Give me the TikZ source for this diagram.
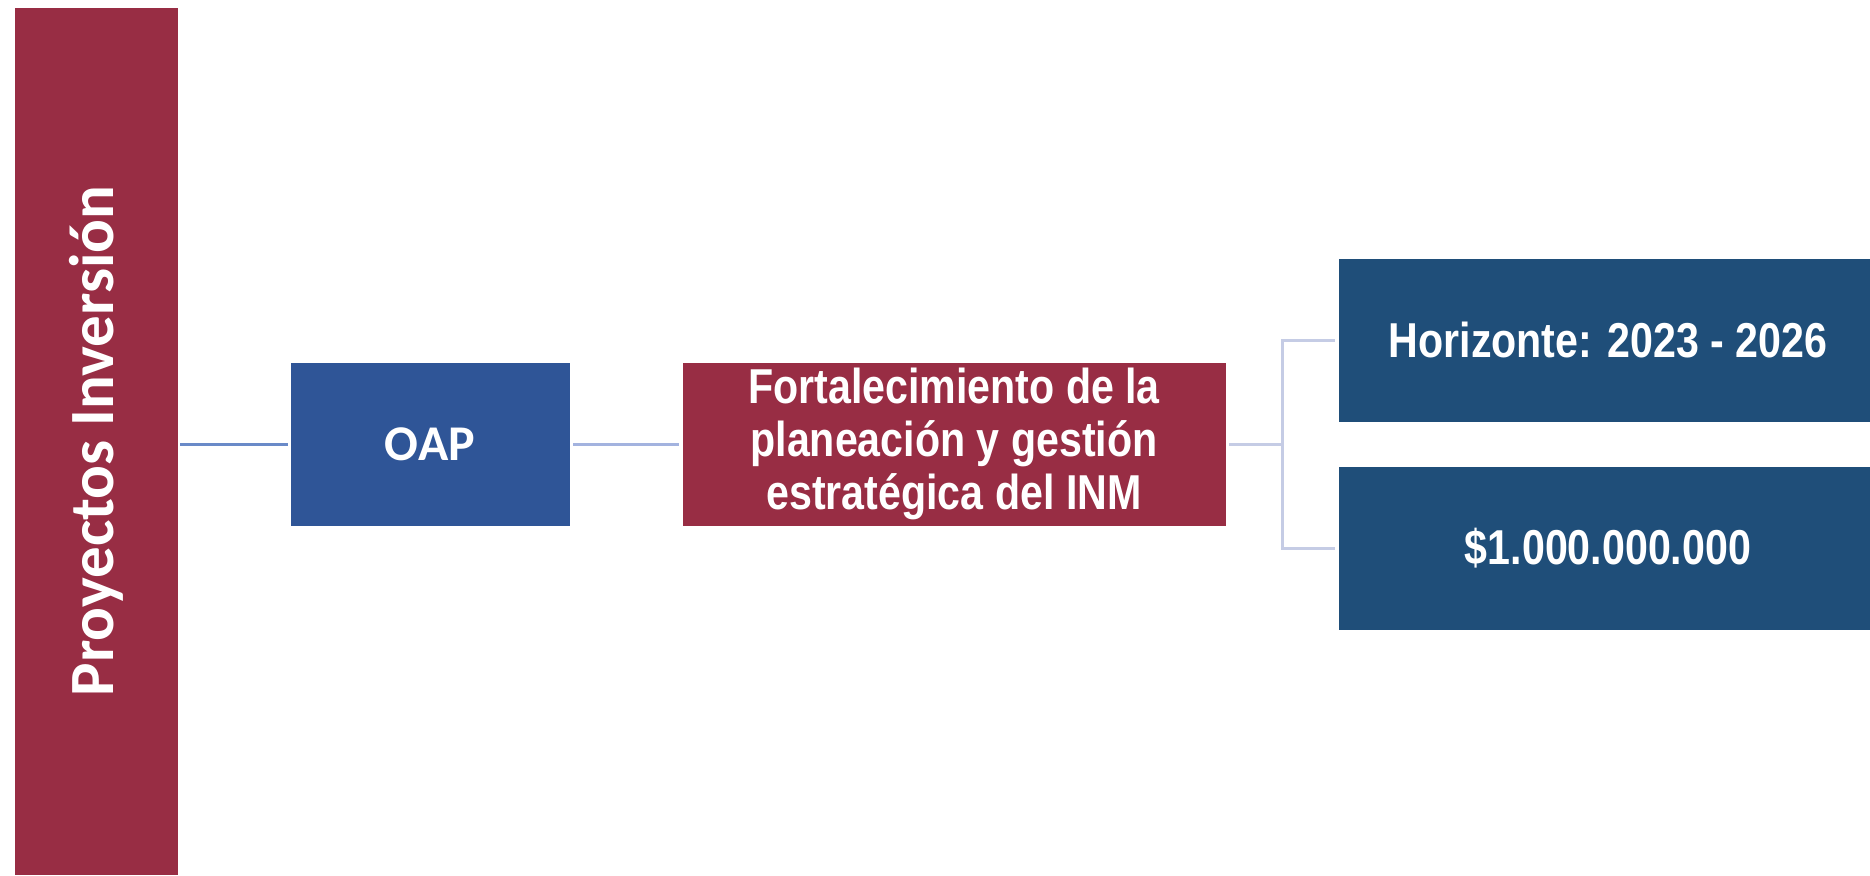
\documentclass[tikz,border=0pt]{standalone}
\usepackage{fontspec}
\newfontfamily\calfont{Carlito}
\newfontfamily\narrowfont[FakeStretch=0.84]{Liberation Sans}
\definecolor{wine}{HTML}{982D44}
\definecolor{oapblue}{HTML}{2F5597}
\definecolor{navy}{HTML}{1F4E79}
\definecolor{lineA}{HTML}{6A8AC8}
\definecolor{lineB}{HTML}{A3B3DF}
\definecolor{lineC}{HTML}{C5CCE5}
\tikzset{
  boxbase/.style={rectangle, inner sep=0pt, text=white, align=center, draw=white, line width=0.6pt},
  winebox/.style={boxbase, fill=wine},
  bluebox/.style={boxbase, fill=oapblue},
  navybox/.style={boxbase, fill=navy},
  conn/.style={line width=3pt}
}
\begin{document}
\begin{tikzpicture}[x=1pt,y=-1pt]
\useasboundingbox (0,0) rectangle (1870,875);
\fill[white] (0,0) rectangle (1870,875);
\node[winebox, rotate=90, minimum width=868, minimum height=164,
  font={\calfont\bfseries\fontsize{63}{70}\selectfont}] (bar) at (96,441) {Proyectos Inversión};
\node[bluebox, minimum width=280, minimum height=164,
  font={\calfont\bfseries\fontsize{50}{60}\selectfont}] (oap) at (430,444) {OAP};
\node[winebox, minimum width=544, minimum height=164,
  font={\narrowfont\bfseries\fontsize{49}{53}\selectfont}] (fort) at (954,444)
  {Fortalecimiento de la\\planeación y gestión\\estratégica del INM};
\node[navybox, minimum width=532, minimum height=164,
  font={\narrowfont\bfseries\fontsize{49}{53}\selectfont}] (hor) at (1604,340) {\hspace*{8pt}Horizonte: 2023 - 2026};
\node[navybox, minimum width=532, minimum height=164,
  font={\narrowfont\bfseries\fontsize{49}{53}\selectfont}] (money) at (1604,548) {\hspace*{8pt}\$1.000.000.000};
\draw[conn, lineA, shorten <=2pt, shorten >=2pt] (bar.south |- oap.west) -- (oap.west);
\draw[conn, lineB, shorten <=3pt, shorten >=3pt] (oap.east) -- (fort.west);
\coordinate (elbow) at ([xshift=56pt]fort.east);
\draw[conn, lineC, shorten <=3pt] (fort.east) -- (elbow);
\draw[conn, lineC, shorten >=3pt] (elbow) |- (hor.west);
\draw[conn, lineC, shorten >=3pt] (elbow) |- (money.west);
\end{tikzpicture}
\end{document}
